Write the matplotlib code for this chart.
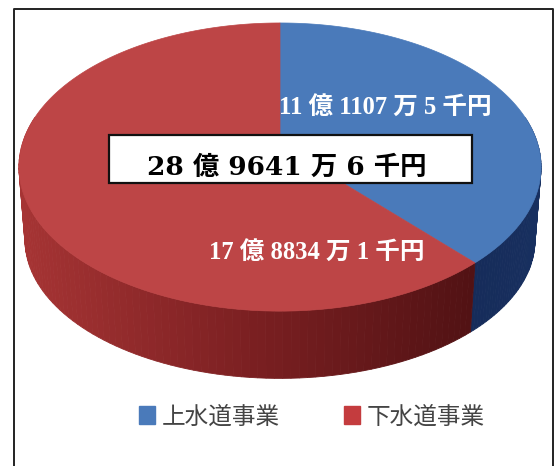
import numpy as np
import matplotlib.pyplot as plt
from matplotlib.colors import to_rgb
from matplotlib.patches import Patch, Rectangle

categories = ["上水道事業", "下水道事業"]
values = [11.11075, 17.88341]  # 億円
value_labels = ["11 億 1107 万 5 千円", "17 億 8834 万 1 千円"]
total_label = "28 億 9641 万 6 千円"
top_colors = ["#4a7aba", "#bd4546"]
side_colors = [["#1d3c74", "#162c5a"], ["#a63434", "#7c2022", "#521214"]]

serif = ["Liberation Serif", "Noto Sans CJK JP"]
wide_serif = ["DejaVu Serif", "Noto Sans CJK JP"]


# perspective view of the disc, in picture pixels
def project(angle, level=0):
    u, v = np.sin(angle), np.cos(angle)
    w = 1 + 0.153 * v
    if level == 0:
        return 280 + 258 * u / w, 145 - 140.7 * v / w
    return 280 + 252 * u / w, 219 - 135 * v / w


def mix(c1, c2, f):
    return np.array(to_rgb(c1)) * (1 - f) + np.array(to_rgb(c2)) * f


fig = plt.figure(figsize=(5.55, 4.66), dpi=100)
ax = fig.add_axes([0, 0, 1, 1])
ax.set_xlim(0, 555)
ax.set_ylim(466, 0)
ax.axis("off")

# frame, open at the bottom
ax.plot([14, 14, 553, 553], [466, 9, 9, 466], color="#222222", lw=1.4)

# slice angles from the values, clockwise from the top
shares = np.array(values) / sum(values) * 2 * np.pi
edges = np.concatenate([[0], np.cumsum(shares)])

# side wall, front half only
for i in range(2):
    t = np.linspace(edges[i], edges[i + 1], 140)
    for a, b in zip(t[:-1], t[1:]):
        if np.cos(a) > 0.2 and np.cos(b) > 0.2:
            continue
        xa, ya = project(a)
        xb, yb = project(b)
        xc, yc = project(b, 1)
        xd, yd = project(a, 1)
        if i == 0:
            c = mix(side_colors[0][0], side_colors[0][1], (a - edges[0]) / (edges[1] - edges[0]))
        else:
            f = (np.clip((xa + xb) / 2, 20, 470) - 20) / 450
            if f < 0.5:
                c = mix(side_colors[1][0], side_colors[1][1], f * 2)
            else:
                c = mix(side_colors[1][1], side_colors[1][2], (f - 0.5) * 2)
        ax.fill([xa, xb, xc, xd], [ya, yb, yc, yd], color=c, lw=0.6)

# top surface
for i in range(2):
    t = np.linspace(edges[i], edges[i + 1], 200)
    x, y = project(t)
    ax.fill(np.r_[280, x], np.r_[145, y], color=top_colors[i], lw=0.5)

# labels
ax.text(385, 108, value_labels[0], color="white", fontsize=17.7, fontweight="bold",
        family=serif, ha="center", va="center")
ax.text(317, 253, value_labels[1], color="white", fontsize=17.7, fontweight="bold",
        family=serif, ha="center", va="center")

ax.add_patch(Rectangle((109, 135), 363, 48, fc="white", ec="#111111", lw=1.6, zorder=3))
ax.text(287, 167, total_label, color="black", fontsize=19, fontweight="bold",
        family=wide_serif, ha="center", va="center", zorder=4)

# legend
handles = [Patch(color=top_colors[0]), Patch(color="#c43c3e")]
leg = ax.legend(handles, categories, ncol=2, frameon=False, loc="center",
                bbox_to_anchor=(312 / 555, 1 - 417 / 466),
                prop={"family": "Noto Sans CJK JP", "size": 17},
                labelcolor="#444444", handlelength=0.68, handleheight=0.8,
                handletextpad=0.3, columnspacing=2.7)

fig.savefig("out.png", dpi=100)
